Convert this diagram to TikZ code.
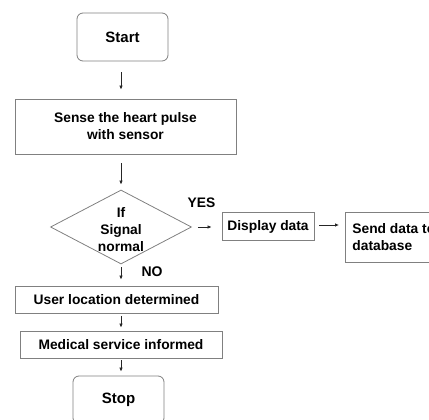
\documentclass[tikz,border=0pt]{standalone}
\usepackage{fontspec}
\setmainfont{Liberation Sans}
\usetikzlibrary{arrows.meta,shapes.geometric}

\tikzset{
  txt/.style={font=\bfseries\fontsize{13.8}{17}\selectfont, text=black},
  box/.style={draw=black!50, line width=0.8pt, fill=white, inner sep=0pt, align=center, txt},
  term/.style={box, rounded corners=6pt, font=\bfseries\fontsize{15}{18}\selectfont},
  decide/.style={diamond, draw=black!50, line width=0.8pt, inner sep=0pt},
  flow/.style={draw=black!85, line width=0.75pt, -{Latex[length=4pt,width=3.5pt]}},
}

\begin{document}
\begin{tikzpicture}[x=1pt,y=-1pt]
  \useasboundingbox (0,0) rectangle (429,420);
  \clip (0,0) rectangle (429,420);

  % main column
  \node[term, minimum width=91pt, minimum height=48pt] (start) at (122.5,37) {Start};
  \node[box, minimum width=221pt, minimum height=55pt] (sense) at (125.5,126.5)
    {Sense the heart pulse\\with sensor};
  \node[decide, minimum width=141pt, minimum height=74pt] (dec) at (121,227) {};
  \node[txt, align=center] (dectext) at (121,230) {If\\Signal\\normal};
  \node[box, minimum width=203pt, minimum height=27pt] (user) at (116.5,299.5)
    {User location determined};
  \node[box, minimum width=202pt, minimum height=27pt] (medical) at (121,344.5)
    {Medical service informed};
  \node[term, minimum width=91pt, minimum height=48pt] (stop) at (118.5,400) {Stop};

  % branch for a normal signal
  \node[box, minimum width=92pt, minimum height=28pt] (display) at (268,226.5) {Display data};
  \node[box, anchor=west, minimum width=95pt, minimum height=50pt, inner xsep=7pt, align=left]
    (send) at (345,237.5) {Send data to\\database};

  % branch labels
  \node[txt] (yes) at (201.5,203) {YES};
  \node[txt, font=\bfseries\fontsize{14}{17}\selectfont] (no) at (152,272) {NO};

  % connectors
  \draw[flow, shorten <=11pt, shorten >=9pt] (start.south -| dec.north) -- (dec.north |- sense.north);
  \draw[flow, shorten <=9pt, shorten >=5pt] (dec.north |- sense.south) -- (dec.north);
  \draw[flow, shorten <=6pt, shorten >=10pt] (dec.east) -- (dec.east -| display.west);
  \draw[flow, shorten <=5pt, shorten >=6pt] (display.east |- 0,225) -- (send.west |- 0,225);
  \draw[flow, shorten <=3pt, shorten >=6pt] (dec.south) -- (dec.south |- user.north);
  \draw[flow, shorten <=3pt, shorten >=3pt] (dec.south |- user.south) -- (dec.south |- medical.north);
  \draw[flow, shorten <=2pt, shorten >=4pt] (dec.south |- medical.south) -- (dec.south |- stop.north);
\end{tikzpicture}
\end{document}
